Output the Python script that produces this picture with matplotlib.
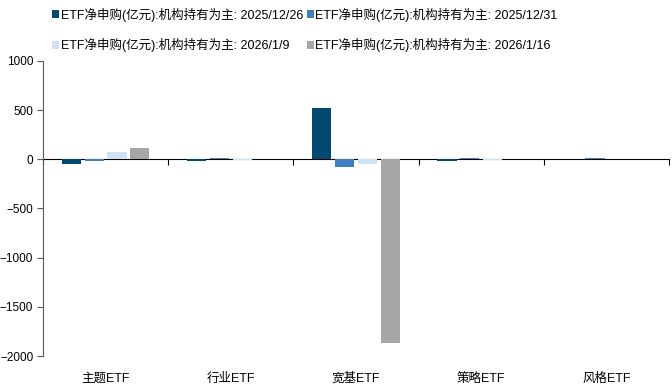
import matplotlib.pyplot as plt
import numpy as np

plt.rcParams['font.family'] = ['Liberation Sans', 'Noto Sans CJK SC']

categories = ['主题ETF', '行业ETF', '宽基ETF', '策略ETF', '风格ETF']
series_names = ['ETF净申购(亿元):机构持有为主: 2025/12/26',
                'ETF净申购(亿元):机构持有为主: 2025/12/31',
                'ETF净申购(亿元):机构持有为主: 2026/1/9',
                'ETF净申购(亿元):机构持有为主: 2026/1/16']
v_1226 = [-50, -20, 525, -15, 0]
v_1231 = [-15, 10, -75, 8, 8]
v_0109 = [75, -5, -45, -3, 3]
v_0116 = [115, 5, -1870, 5, 5]
colors = ['#004A70', '#3F7FC0', '#CFE2F3', '#A6A6A6']

fig = plt.figure(figsize=(6.72, 3.85), dpi=100)
ax = fig.add_axes([0.064, 0.075, 0.9315, 0.767])

x = np.arange(len(categories))
step = 0.182
width = 0.152
handles = []
for i, (vals, c, name) in enumerate(zip([v_1226, v_1231, v_0109, v_0116], colors, series_names)):
    b = ax.bar(x + (i - 1.5) * step, vals, width, color=c, label=name, zorder=2)
    handles.append(b)

ax.set_xlim(-0.5, len(categories) - 0.5)
ax.set_ylim(-2000, 1000)
ax.set_yticks(np.arange(-2000, 1001, 500))
ax.tick_params(axis='y', labelsize=8.5, length=4, color='#595959', pad=3)
ax.set_xticks(x)
ax.set_xticklabels(categories, fontsize=9)
ax.tick_params(axis='x', length=0, pad=12)

for s in ['top', 'right', 'bottom']:
    ax.spines[s].set_visible(False)
ax.spines['left'].set_color('#595959')

# zero axis with boundary ticks
sec = ax.secondary_xaxis(2 / 3)
sec.set_xticks(np.arange(-0.5, len(categories), 1.0))
sec.set_xticklabels([])
sec.tick_params(direction='in', length=4, color='black')
sec.spines['bottom'].set_color('black')
sec.spines['bottom'].set_linewidth(1.0)

order = [0, 2, 1, 3]
ax.legend([handles[k] for k in order], [series_names[k] for k in order],
          ncol=2, loc='lower left', bbox_to_anchor=(0.0, 1.0), frameon=False,
          fontsize=9, handlelength=0.6, handleheight=0.6, handletextpad=0.1,
          columnspacing=0.3, labelspacing=1.3, borderaxespad=0.3)

fig.savefig('out.png', dpi=100)
